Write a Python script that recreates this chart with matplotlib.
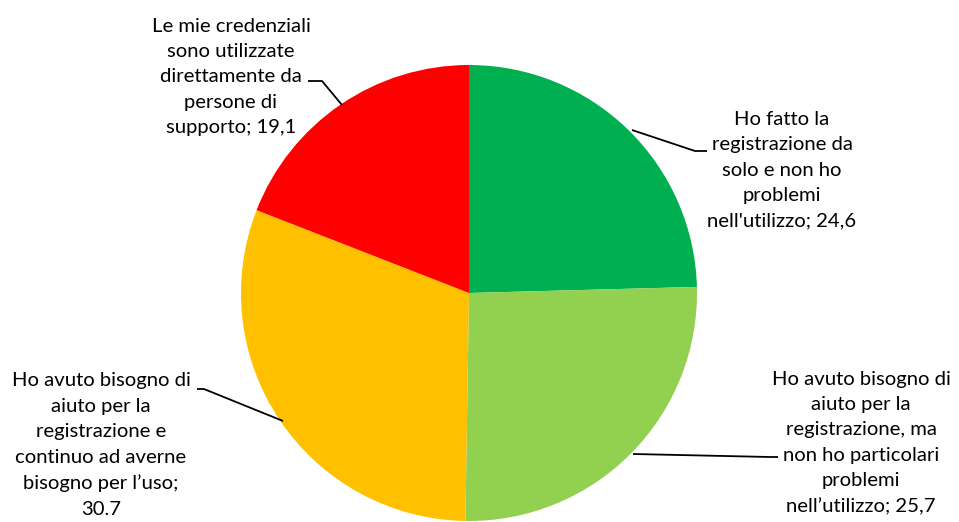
import matplotlib
matplotlib.use("Agg")
import matplotlib.pyplot as plt

labels = [
    "Ho fatto la\nregistrazione da\nsolo e non ho\nproblemi\nnell'utilizzo; 24,6",
    "Ho avuto bisogno di\naiuto per la\nregistrazione, ma\nnon ho particolari\nproblemi\nnell\u2019utilizzo; 25,7",
    "Ho avuto bisogno di\naiuto per la\nregistrazione e\ncontinuo ad averne\nbisogno per l\u2019uso;\n30.7",
    "Le mie credenziali\nsono utilizzate\ndirettamente da\npersone di\nsupporto; 19,1",
]
values = [24.6, 25.7, 30.7, 19.1]
colors = ["#00B050", "#92D050", "#FFC000", "#FF0000"]

W, H = 959, 522
fig = plt.figure(figsize=(W / 100, H / 100), dpi=100)
ax = fig.add_axes([0, 0, 1, 1])

cx, cy, r = 469, H - 293, 228
ax.pie(values, colors=colors, startangle=90, counterclock=False,
       center=(cx, cy), radius=r, frame=True,
       wedgeprops=dict(linewidth=0))
ax.set_xlim(0, W)
ax.set_ylim(0, H)
ax.set_aspect("equal")
ax.axis("off")

# label layout (pixel coords, y from top)
label_pos = [(782, 170), (861, 443), (101, 445), (231, 77)]
leaders = [
    [(632, 130), (695, 151), (707, 151)],
    [(633, 454), (770, 457), (778, 457)],
    [(283, 421), (204, 389), (197, 389)],
    [(342, 105), (322, 81), (308, 81)],
]
font = dict(family=["Lato", "DejaVu Sans"], size=14.6, color="#000000")
for lab, (px, py), ld in zip(labels, label_pos, leaders):
    ax.text(px, H - py, lab, ha="center", va="center", multialignment="center",
            linespacing=1.6, **font)
    xs = [p[0] for p in ld]
    ys = [H - p[1] for p in ld]
    ax.plot(xs, ys, color="black", lw=1.3, solid_capstyle="butt")

fig.savefig("out.png", dpi=100, facecolor="white")
